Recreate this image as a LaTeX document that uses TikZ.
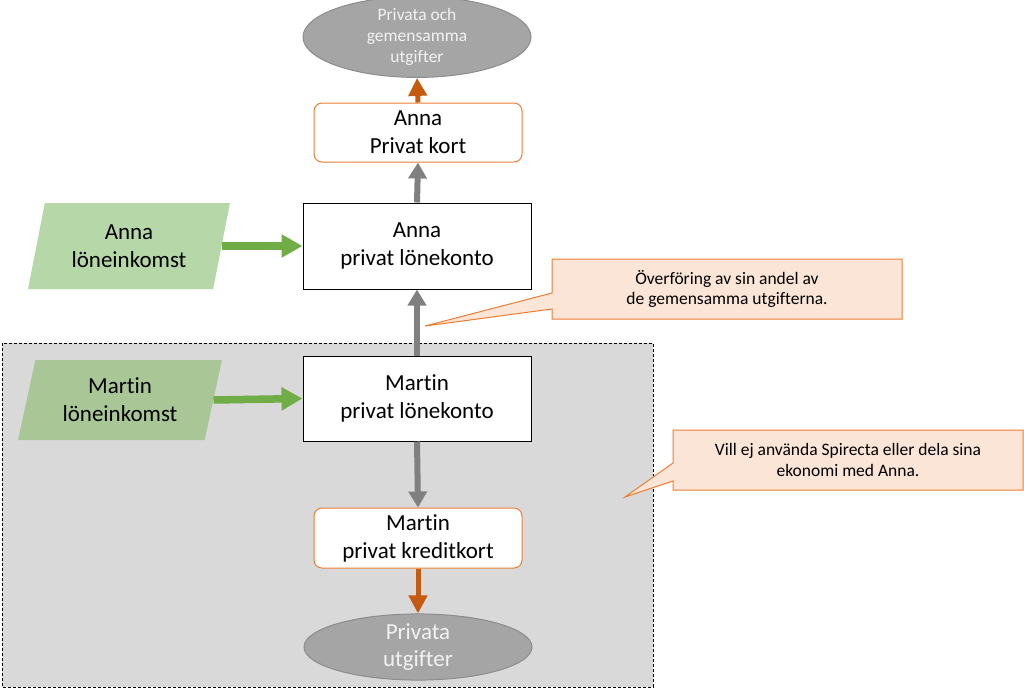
\documentclass[tikz,border=0pt]{standalone}
\usepackage{fontspec}
\setmainfont{Carlito}[Ligatures=NoCommon]
\usetikzlibrary{shapes.geometric,arrows.meta}
\definecolor{graybox}{HTML}{D9D9D9}
\definecolor{ellfill}{HTML}{A5A5A5}
\definecolor{elldraw}{HTML}{8C8C8C}
\definecolor{orgline}{HTML}{ED7D31}
\definecolor{orgarrow}{HTML}{C55A11}
\definecolor{grayarrow}{HTML}{808080}
\definecolor{greenarrow}{HTML}{70AD47}
\definecolor{annagreen}{HTML}{B6D7A8}
\definecolor{martingreen}{HTML}{A9C796}
\definecolor{calloutfill}{HTML}{FBE5D6}
\tikzset{
  acct/.style={draw=black, line width=1pt, fill=white, minimum width=228pt, minimum height=86pt, inner sep=0pt, align=center, font=\fontsize{23}{28}\selectfont},
  card/.style={draw=orgline, line width=1pt, fill=white, rounded corners=8pt, minimum width=208pt, minimum height=59pt, inner sep=0pt, align=center, font=\fontsize{23}{28}\selectfont},
  expense/.style={ellipse, draw=elldraw, line width=1pt, fill=ellfill, minimum width=228pt, inner sep=0pt, align=center, text=white!95!black},
  income/.style={trapezium, trapezium left angle=75, trapezium right angle=105, trapezium stretches=true, inner sep=0pt, align=center, font=\fontsize{23}{28}\selectfont},
  callbox/.style={draw=orgline, line width=1pt, fill=calloutfill},
  calltext/.style={align=center, font=\fontsize{17.5}{20.5}\selectfont},
  grayarr/.style={draw=grayarrow, line width=6pt, -{Triangle[width=18pt,length=16pt]}},
  orgarr/.style={draw=orgarrow, line width=5pt, -{Triangle[width=18pt,length=18pt]}},
  greenarr/.style={draw=greenarrow, line width=7.5pt, -{Triangle[width=22pt,length=21pt]}},
}
\begin{document}
\begin{tikzpicture}[x=1pt,y=-1pt]
\useasboundingbox (0,0) rectangle (1024,689);
% background region
\draw[fill=graybox, line width=1pt, dash pattern=on 3pt off 2pt] (2,343) rectangle (653,687);
% callouts
\draw[callbox] (552,259) -- (902,259) -- (902,319) -- (552,319) -- (552,309) -- (425,326) -- (552,293) -- cycle;
\node[calltext] (c1) at (727,289) {Överföring av sin andel av\\de gemensamma utgifterna.};
\draw[callbox] (673,430) -- (1023,430) -- (1023,490) -- (673,490) -- (673,481) -- (625,497) -- (673,463) -- cycle;
\node[calltext] (c2) at (848,460) {Vill ej använda Spirecta eller dela sina\\ekonomi med Anna.};
% nodes
\node[expense, minimum height=70pt, font=\fontsize{17.5}{21}\selectfont] (te) at (417,37) {Privata och\\gemensamma\\utgifter};
\node[card] (akort) at (418,132.5) {Anna\\Privat kort};
\node[acct] (abox) at (417,246) {Anna\\privat lönekonto};
\node[income, fill=annagreen, minimum width=202pt, minimum height=86pt] (ainc) at (129,246) {Anna\\löneinkomst};
\node[acct, minimum height=85pt] (mbox) at (417,398.5) {Martin\\privat lönekonto};
\node[income, fill=martingreen, minimum width=204pt, minimum height=80pt] (minc) at (120,400) {Martin\\löneinkomst};
\node[card, minimum height=60pt] (mkort) at (418,538) {Martin\\privat kreditkort};
\node[expense, minimum height=60pt, font=\fontsize{23}{27}\selectfont] (be) at (418,647) {Privata\\utgifter};
% connectors
\draw[orgarr] (akort.north) -- (te.south);
\draw[grayarr] (abox.north) -- (akort.south);
\draw[grayarr] (mbox.north) -- (abox.south);
\draw[grayarr] (mbox.south) -- (mkort.north);
\draw[orgarr] (mkort.south) -- (be.north);
\draw[greenarr] (ainc.east) -- (abox.west);
\draw[greenarr] (minc.east) -- (mbox.west);
\end{tikzpicture}
\end{document}
